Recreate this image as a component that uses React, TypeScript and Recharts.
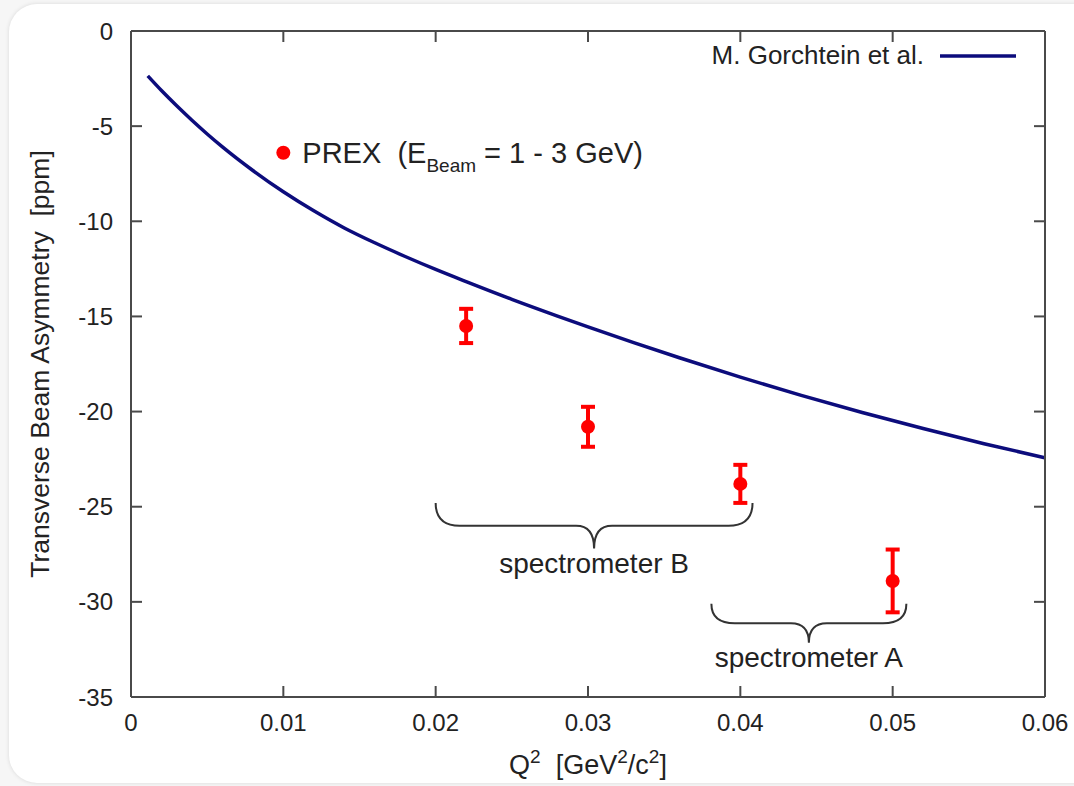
import React from 'react';
import {
  ComposedChart,
  Line,
  Scatter,
  ErrorBar,
  XAxis,
  YAxis,
  Legend,
  ReferenceDot,
  ReferenceArea,
} from 'recharts';

// theory curve (M. Gorchtein et al.)
const curveQ2 = [
  0.0011, 0.002, 0.003, 0.004, 0.005, 0.006, 0.008, 0.01, 0.012, 0.014, 0.016, 0.018, 0.02,
  0.022, 0.025, 0.028, 0.03, 0.033, 0.036, 0.04, 0.044, 0.048, 0.052, 0.056, 0.06,
];
const curveAsym = [
  -2.36, -3.13, -3.93, -4.69, -5.41, -6.09, -7.33, -8.45, -9.45, -10.35, -11.13, -11.85, -12.53,
  -13.17, -14.1, -14.98, -15.55, -16.38, -17.17, -18.19, -19.15, -20.05, -20.89, -21.69, -22.43,
];

// PREX measurements
const prexQ2 = [0.022, 0.03, 0.04, 0.05];
const prexAsym = [-15.5, -20.8, -23.8, -28.9];
const prexErr = [0.9, 1.05, 1.0, 1.65];

const xTicks = [0, 0.01, 0.02, 0.03, 0.04, 0.05, 0.06];
const yTicks = [0, -5, -10, -15, -20, -25, -30, -35];

const curveName = 'M. Gorchtein et al.';

// annotations: PREX key marker, spectrometer braces
const prexKey = { q2: 0.01, asym: -6.4 };
const braceB = { x1: 0.02, x2: 0.0408, y1: -24.8, y2: -27.2, label: 'spectrometer B' };
const braceA = { x1: 0.0381, x2: 0.0509, y1: -30.1, y2: -32.15, label: 'spectrometer A' };

const curveData = curveQ2.map((q2, i) => ({ q2, asym: curveAsym[i] }));
const prexData = prexQ2.map((q2, i) => ({ q2, asym: prexAsym[i], err: prexErr[i] }));

const FONT = '"Liberation Sans", Arial, Helvetica, sans-serif';
const TEXT = '#222';
const AXIS = '#4a4a4a';
const NAVY = '#0c0c7c';
const RED = '#ff0000';

const MARGIN = { top: 31, right: 29, bottom: 0, left: 0 };
const X_GAP = 17; // label distance below the frame
const Y_GAP = 18; // label distance left of the frame
const TICK_LEN = 11; // inward tick length

// label + inward ticks (bottom and mirrored top), gnuplot style
function BottomTick(props: any) {
  const { x, y, payload } = props;
  return (
    <g>
      <line x1={x} y1={y - X_GAP} x2={x} y2={y - X_GAP - TICK_LEN} stroke={AXIS} strokeWidth={2} />
      <line x1={x} y1={MARGIN.top} x2={x} y2={MARGIN.top + TICK_LEN} stroke={AXIS} strokeWidth={2} />
      <text x={x} y={y} dy="0.71em" textAnchor="middle" fill={TEXT} fontSize={24} fontFamily={FONT}>
        {payload.value}
      </text>
    </g>
  );
}

function LeftTick(props: any) {
  const { x, y, payload } = props;
  return (
    <g>
      <line x1={x + Y_GAP} y1={y} x2={x + Y_GAP + TICK_LEN} y2={y} stroke={AXIS} strokeWidth={2} />
      <text x={x} y={y} dy="0.355em" textAnchor="end" fill={TEXT} fontSize={24} fontFamily={FONT}>
        {payload.value}
      </text>
    </g>
  );
}

const NoLabel = () => <g />;

function YTitle(props: any) {
  const vb = props.viewBox;
  const cx = vb.x + 40;
  const cy = vb.y + vb.height / 2;
  return (
    <text
      x={cx}
      y={cy}
      transform={`rotate(-90 ${cx} ${cy})`}
      textAnchor="middle"
      dominantBaseline="central"
      fill={TEXT}
      fontSize={26.5}
      fontFamily={FONT}
      style={{ whiteSpace: 'pre' }}
    >
      {'Transverse Beam Asymmetry  [ppm]'}
    </text>
  );
}

function XTitle(props: any) {
  const vb = props.viewBox;
  const cx = vb.x + vb.width / 2;
  const cy = vb.y + 77;
  return (
    <text x={cx} y={cy} textAnchor="middle" fill={TEXT} fontSize={27} fontFamily={FONT} style={{ whiteSpace: 'pre' }}>
      <tspan>Q</tspan>
      <tspan fontSize={19} dy={-11}>2</tspan>
      <tspan dy={11}>{'  [GeV'}</tspan>
      <tspan fontSize={19} dy={-11}>2</tspan>
      <tspan dy={11}>/c</tspan>
      <tspan fontSize={19} dy={-11}>2</tspan>
      <tspan dy={11}>]</tspan>
    </text>
  );
}

function PrexLabel(props: any) {
  const vb = props.viewBox;
  const x = vb.x + vb.width + 12;
  const y = vb.y + vb.height / 2 + 10;
  return (
    <text x={x} y={y} fill={TEXT} fontSize={29} fontFamily={FONT} style={{ whiteSpace: 'pre' }}>
      <tspan>{'PREX  (E'}</tspan>
      <tspan fontSize={19} dy={9}>Beam</tspan>
      <tspan dy={-9}>{' = 1 - 3 GeV)'}</tspan>
    </text>
  );
}

function Brace(props: any) {
  const { x, y, width, height } = props;
  const ym = y + height * 0.5;
  const r = Math.min(24, width * 0.12);
  const cx = x + width / 2;
  const d = [
    `M ${x} ${y}`,
    `Q ${x} ${ym} ${x + r} ${ym}`,
    `L ${cx - 18} ${ym}`,
    `Q ${cx} ${ym} ${cx} ${y + height}`,
    `Q ${cx} ${ym} ${cx + 18} ${ym}`,
    `L ${x + width - r} ${ym}`,
    `Q ${x + width} ${ym} ${x + width} ${y}`,
  ].join(' ');
  return <path d={d} fill="none" stroke="#333" strokeWidth={2} />;
}

function braceLabel(text: string) {
  return (props: any) => {
    const vb = props.viewBox;
    return (
      <text
        x={vb.x + vb.width / 2}
        y={vb.y + vb.height + 24}
        textAnchor="middle"
        fill={TEXT}
        fontSize={28}
        fontFamily={FONT}
      >
        {text}
      </text>
    );
  };
}

function PrexDot(props: any) {
  return <circle cx={props.cx} cy={props.cy} r={7} fill={RED} />;
}

function CurveLegend(props: any) {
  const items = (props.payload || []).filter((p: any) => p.type !== 'none');
  return (
    <div>
      {items.map((p: any) => (
        <div key={p.value} style={{ display: 'flex', alignItems: 'center', fontFamily: FONT, fontSize: 26, color: TEXT }}>
          <span>{p.value}</span>
          <svg width={92} height={30}>
            <line x1={16} y1={15} x2={92} y2={15} stroke={p.color} strokeWidth={3.5} />
          </svg>
        </div>
      ))}
    </div>
  );
}

export default function App() {
  return (
    <div style={{ position: 'absolute', left: 0, top: 0, width: 1074, height: 786, background: '#f6f6f6', overflow: 'hidden' }}>
      <div
        style={{
          position: 'absolute',
          left: 9,
          top: 4,
          width: 1100,
          height: 779,
          borderRadius: 28,
          background: '#fff',
          boxShadow: '0 0 4px rgba(0,0,0,0.12)',
        }}
      />
      <div style={{ position: 'absolute', left: 0, top: 0 }}>
        <ComposedChart width={1074} height={786} margin={MARGIN}>
          <XAxis
            xAxisId="b"
            dataKey="q2"
            type="number"
            domain={[0, 0.06]}
            ticks={xTicks}
            allowDataOverflow
            height={89}
            tickSize={0}
            tickMargin={X_GAP}
            tickLine={false}
            axisLine={{ stroke: AXIS, strokeWidth: 2 }}
            tick={BottomTick}
            label={XTitle}
          />
          <XAxis
            xAxisId="t"
            orientation="top"
            type="number"
            domain={[0, 0.06]}
            ticks={xTicks}
            allowDataOverflow
            mirror
            tick={NoLabel}
            tickLine={false}
            axisLine={{ stroke: AXIS, strokeWidth: 2 }}
          />
          <YAxis
            yAxisId="l"
            dataKey="asym"
            type="number"
            domain={[-35, 0]}
            ticks={yTicks}
            allowDataOverflow
            width={131}
            tickSize={0}
            tickMargin={Y_GAP}
            tickLine={false}
            axisLine={{ stroke: AXIS, strokeWidth: 2 }}
            tick={LeftTick}
            label={YTitle}
          />
          <YAxis
            yAxisId="r"
            orientation="right"
            type="number"
            domain={[-35, 0]}
            ticks={yTicks}
            allowDataOverflow
            mirror
            tick={NoLabel}
            tickSize={TICK_LEN}
            tickLine={{ stroke: AXIS, strokeWidth: 2 }}
            axisLine={{ stroke: AXIS, strokeWidth: 2 }}
          />
          <Legend
            layout="vertical"
            align="center"
            verticalAlign="middle"
            wrapperStyle={{ top: 40, right: 58 }}
            content={CurveLegend}
          />
          <ReferenceArea
            xAxisId="b"
            yAxisId="l"
            x1={braceB.x1}
            x2={braceB.x2}
            y1={braceB.y1}
            y2={braceB.y2}
            shape={Brace}
            label={braceLabel(braceB.label)}
          />
          <ReferenceArea
            xAxisId="b"
            yAxisId="l"
            x1={braceA.x1}
            x2={braceA.x2}
            y1={braceA.y1}
            y2={braceA.y2}
            shape={Brace}
            label={braceLabel(braceA.label)}
          />
          <ReferenceDot
            xAxisId="b"
            yAxisId="l"
            x={prexKey.q2}
            y={prexKey.asym}
            r={7}
            fill={RED}
            stroke="none"
            label={PrexLabel}
          />
          <Line
            xAxisId="b"
            yAxisId="l"
            data={curveData}
            dataKey="asym"
            name={curveName}
            type="monotone"
            stroke={NAVY}
            strokeWidth={3.5}
            dot={false}
            activeDot={false}
            isAnimationActive={false}
          />
          <Scatter
            xAxisId="b"
            yAxisId="l"
            data={prexData}
            dataKey="asym"
            fill={RED}
            shape={PrexDot}
            legendType="none"
            isAnimationActive={false}
          >
            <ErrorBar dataKey="err" direction="y" width={7} stroke={RED} strokeWidth={4} isAnimationActive={false} />
          </Scatter>
        </ComposedChart>
      </div>
    </div>
  );
}
